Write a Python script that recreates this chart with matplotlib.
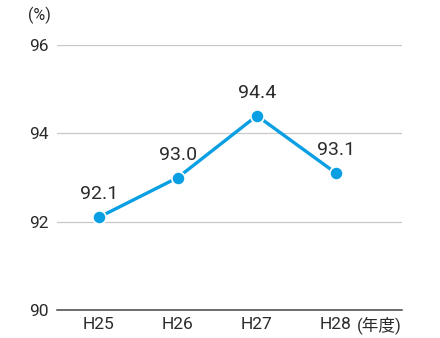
import matplotlib
matplotlib.use("Agg")
import matplotlib.pyplot as plt

plt.rcParams["font.family"] = ["Roboto", "Noto Sans CJK JP", "DejaVu Sans"]

years = ["H25", "H26", "H27", "H28"]
rates = [92.1, 93.0, 94.4, 93.1]
yticks = [90, 92, 94, 96]

TEXT = "#2b2b2b"
BLUE = "#0a9fe3"

fig = plt.figure(figsize=(4.4, 3.38), dpi=100)
ax = fig.add_axes([0.1295, 0.0828, 0.784, 0.784])

x = range(len(years))
ax.plot(x, rates, color=BLUE, lw=2.4, marker="o", ms=9.5,
        mfc=BLUE, mec="white", mew=1.2, zorder=3, solid_capstyle="butt")
for xi, v in zip(x, rates):
    ax.annotate(f"{v:.1f}", (xi, v), xytext=(0, 10), textcoords="offset points",
                ha="center", va="bottom", fontsize=14, color=TEXT)

ax.set_xlim(-0.53, 3.835)
ax.set_ylim(90, 96)
ax.set_yticks(yticks)
ax.set_yticklabels([str(t) for t in yticks])
ax.set_xticks(list(x))
ax.set_xticklabels(years)
ax.tick_params(length=0, labelsize=12.5, labelcolor=TEXT)
ax.tick_params(axis="y", pad=6)
ax.tick_params(axis="x", pad=5)

ax.grid(axis="y", color="#c8c8c8", lw=0.9)
ax.set_axisbelow(True)
for side in ("left", "right", "top"):
    ax.spines[side].set_visible(False)
ax.spines["bottom"].set_color("#444444")
ax.spines["bottom"].set_linewidth(1.1)

fig.text(0.064, 0.955, "(%)", fontsize=11.5, color=TEXT, va="center", ha="left")
fig.text(0.812, 0.038, "(年度)", fontsize=12, color=TEXT, va="center", ha="left")

fig.savefig("out.png", dpi=100)
